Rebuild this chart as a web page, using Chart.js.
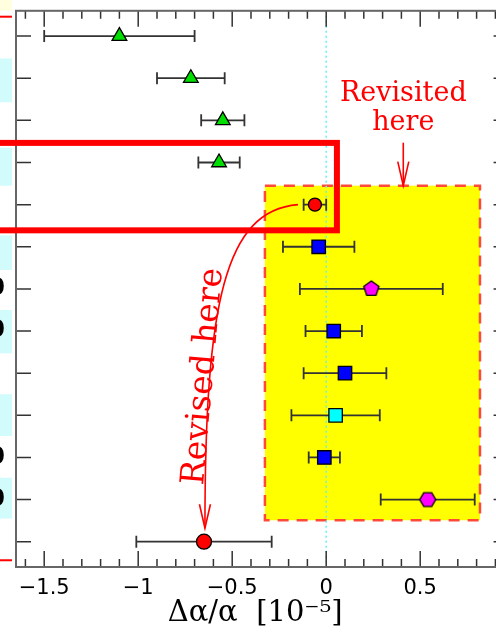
<!DOCTYPE html>
<html lang="en">
<head>
<meta charset="UTF-8">
<title>Δα/α</title>
<script src="https://cdn.jsdelivr.net/npm/chart.js@4"></script>
<style>
  body {margin: 0; background: #fff;}
</style>
</head>
<body>
<canvas id="alpha" width="496" height="633"></canvas>
<script>
// one row per measurement, top to bottom
const rows = [0, 1, 2, 3, 4, 5, 6, 7, 8, 9, 10, 11, 12];
const dAlpha = [-1.10, -0.72, -0.55, -0.57, -0.06, -0.04, 0.24, 0.04, 0.10, 0.05, -0.01, 0.54, -0.65];
const dAlphaErr = [0.40, 0.18, 0.115, 0.11, 0.06, 0.19, 0.38, 0.15, 0.22, 0.235, 0.083, 0.25, 0.36];
const markerShape = ['tri', 'tri', 'tri', 'tri', 'circle', 'square', 'pentagon', 'square', 'square', 'square', 'square', 'hexagon', 'circle'];
const markerColor = ['#00dd00', '#00dd00', '#00dd00', '#00dd00', '#ff0000', '#0000ff', '#ff00ff', '#0000ff', '#0000ff', '#00ffff', '#0000ff', '#ff00ff', '#ff0000'];
const xTickVals = [-1.5, -1, -0.5, 0, 0.5];
const xMin = -1.65;
const pxPerUnit = 188;
// the right edge of the frame sits just past the visible area
const xFrameRight = 0.97;

// highlighted region and annotations, in data units (x, row)
const revisitBox = {x0: -0.326, x1: 0.818, r0: 3.55, r1: 11.49};
const revisedBox = {x0: -1.8, x1: 0.057, r0: 2.535, r1: 4.61};
const revisitedLabel = {x: 0.41, lines: ['Revisited', 'here'], rows: [1.545, 2.24]};
const revisitedArrow = [[0.41, 2.53], [0.41, 3.55]];
const revisedLabel = {x: -0.655, row: 10.67, text: 'Revised here'};
const revisedCurve = [[-0.150, 4.0], [-0.538, 4.14], [-0.645, 6.31], [-0.645, 11.68]];
// bits of the neighbouring panel that show at the left edge
const stripBands = [[0.53, 1.57], [2.65, 3.55], [4.73, 5.55], [6.5, 7.53], [8.5, 9.49], [10.48, 11.45]];
const stripGlyphRows = [6, 7, 10, 11];
const stripRedRows = [-0.46, 12.44];

function polyMarker(sides, r, fill, rot) {
    const c = document.createElement('canvas');
    const s = Math.ceil(2 * r + 4);
    c.width = c.height = s;
    const g = c.getContext('2d');
    g.beginPath();
    for (let k = 0; k < sides; k++) {
        const a = rot + k * 2 * Math.PI / sides;
        const px = s / 2 + r * Math.cos(a), py = s / 2 + r * Math.sin(a);
        if (k) g.lineTo(px, py); else g.moveTo(px, py);
    }
    g.closePath();
    g.fillStyle = fill; g.fill();
    g.lineWidth = 1.3; g.strokeStyle = '#000'; g.stroke();
    return c;
}

const pointStyles = markerShape.map((m, i) => {
    if (m === 'tri') return 'triangle';
    if (m === 'circle') return 'circle';
    if (m === 'square') return 'rect';
    if (m === 'pentagon') return polyMarker(5, 8, markerColor[i], -Math.PI / 2);
    return polyMarker(6, 8, markerColor[i], 0);
});
const pointRadii = markerShape.map((m, i) => m === 'tri' ? 8.5 : m === 'square' ? 9.5 : i === 4 ? 6.5 : 7.5);

function arrowHead(ctx, x, y, ang, len, half) {
    ctx.beginPath();
    ctx.moveTo(x - len * Math.cos(ang) + half * Math.sin(ang), y - len * Math.sin(ang) - half * Math.cos(ang));
    ctx.lineTo(x, y);
    ctx.lineTo(x - len * Math.cos(ang) - half * Math.sin(ang), y - len * Math.sin(ang) + half * Math.cos(ang));
    ctx.stroke();
}

// frame, yellow box, zero line and error bars go under the markers
const underlay = {
    id: 'underlay',
    beforeDatasetsDraw(chart) {
        const {ctx, chartArea: a, scales: {x, y}} = chart;
        const right = x.getPixelForValue(xFrameRight);
        ctx.save();

        ctx.fillStyle = '#ffffe0';
        ctx.fillRect(0, 0, a.left - 4, a.top);
        ctx.fillStyle = '#d2fbfb';
        stripBands.forEach(b => {
            ctx.fillRect(0, y.getPixelForValue(b[0]), a.left - 4, y.getPixelForValue(b[1]) - y.getPixelForValue(b[0]));
        });

        const bx0 = x.getPixelForValue(revisitBox.x0), bx1 = x.getPixelForValue(revisitBox.x1);
        const by0 = y.getPixelForValue(revisitBox.r0), by1 = y.getPixelForValue(revisitBox.r1);
        ctx.fillStyle = '#ffff00';
        ctx.fillRect(bx0, by0, bx1 - bx0, by1 - by0);
        ctx.strokeStyle = '#ff4a3a';
        ctx.lineWidth = 2.5;
        ctx.setLineDash([11, 8]);
        ctx.strokeRect(bx0, by0, bx1 - bx0, by1 - by0);

        const x0 = x.getPixelForValue(0);
        ctx.strokeStyle = '#66f0f0';
        ctx.lineWidth = 1.5;
        ctx.setLineDash([2, 3]);
        ctx.beginPath(); ctx.moveTo(x0, a.top); ctx.lineTo(x0, a.bottom); ctx.stroke();
        ctx.setLineDash([]);

        // axes box with inward ticks
        ctx.strokeStyle = '#333';
        ctx.lineWidth = 1.5;
        for (let k = -16; k <= 9; k++) {
            const px = x.getPixelForValue(k / 10);
            const len = k % 5 === 0 ? 16 : 8;
            ctx.beginPath();
            ctx.moveTo(px, a.top); ctx.lineTo(px, a.top + len);
            ctx.moveTo(px, a.bottom); ctx.lineTo(px, a.bottom - len);
            ctx.stroke();
        }
        rows.forEach(r => {
            const py = y.getPixelForValue(r);
            ctx.beginPath();
            ctx.moveTo(a.left, py); ctx.lineTo(a.left + 15, py);
            ctx.moveTo(right, py); ctx.lineTo(right - 15, py);
            ctx.stroke();
        });
        ctx.strokeStyle = '#666';
        ctx.lineWidth = 2;
        ctx.strokeRect(a.left, a.top, right - a.left, a.bottom - a.top);

        ctx.strokeStyle = '#333';
        ctx.lineWidth = 1.8;
        rows.forEach((r, i) => {
            const py = y.getPixelForValue(r);
            const lo = x.getPixelForValue(dAlpha[i] - dAlphaErr[i]);
            const hi = x.getPixelForValue(dAlpha[i] + dAlphaErr[i]);
            ctx.beginPath();
            ctx.moveTo(lo, py); ctx.lineTo(hi, py);
            ctx.moveTo(lo, py - 6); ctx.lineTo(lo, py + 6);
            ctx.moveTo(hi, py - 6); ctx.lineTo(hi, py + 6);
            ctx.stroke();
        });
        ctx.restore();
    }
};

// red box and the two annotations on top
const overlay = {
    id: 'overlay',
    afterDatasetsDraw(chart) {
        const {ctx, chartArea: a, scales: {x, y}} = chart;
        ctx.save();
        ctx.strokeStyle = '#ff0000';
        ctx.fillStyle = '#ff0000';

        ctx.lineWidth = 2;
        stripRedRows.forEach(r => {
            const py = y.getPixelForValue(r);
            ctx.beginPath(); ctx.moveTo(0, py); ctx.lineTo(a.left - 4, py); ctx.stroke();
        });

        const rx0 = x.getPixelForValue(revisedBox.x0), rx1 = x.getPixelForValue(revisedBox.x1);
        const ry0 = y.getPixelForValue(revisedBox.r0), ry1 = y.getPixelForValue(revisedBox.r1);
        ctx.lineWidth = 6;
        ctx.strokeRect(rx0, ry0, rx1 - rx0, ry1 - ry0);

        ctx.font = '27px "DejaVu Serif"';
        ctx.textAlign = 'center';
        ctx.textBaseline = 'alphabetic';
        revisitedLabel.lines.forEach((t, k) => {
            ctx.fillText(t, x.getPixelForValue(revisitedLabel.x), y.getPixelForValue(revisitedLabel.rows[k]));
        });
        ctx.lineWidth = 1.6;
        const ax = x.getPixelForValue(revisitedArrow[0][0]);
        const ay0 = y.getPixelForValue(revisitedArrow[0][1]), ay1 = y.getPixelForValue(revisitedArrow[1][1]);
        ctx.beginPath(); ctx.moveTo(ax, ay0); ctx.lineTo(ax, ay1); ctx.stroke();
        arrowHead(ctx, ax, ay1, Math.PI / 2, 24, 5.5);

        const c = revisedCurve.map(p => [x.getPixelForValue(p[0]), y.getPixelForValue(p[1])]);
        ctx.beginPath();
        ctx.moveTo(c[0][0], c[0][1]);
        ctx.bezierCurveTo(c[1][0], c[1][1], c[2][0], c[2][1], c[3][0], c[3][1]);
        ctx.stroke();
        arrowHead(ctx, c[3][0], c[3][1], Math.PI / 2, 24, 5.5);

        ctx.save();
        ctx.translate(x.getPixelForValue(revisedLabel.x), y.getPixelForValue(revisedLabel.row));
        ctx.rotate(-85 * Math.PI / 180);
        ctx.font = '33px "DejaVu Serif"';
        ctx.textAlign = 'left';
        ctx.fillText(revisedLabel.text, 0, 0);
        ctx.restore();

        ctx.fillStyle = '#000';
        ctx.font = 'bold 24px "DejaVu Sans"';
        ctx.textAlign = 'right';
        ctx.textBaseline = 'middle';
        stripGlyphRows.forEach(r => ctx.fillText('0', a.left - 11, y.getPixelForValue(r)));
        ctx.restore();
    }
};

const chart = new Chart(document.getElementById('alpha'), {
    type: 'scatter',
    data: {
        datasets: [{
            data: rows.map((r, i) => ({x: dAlpha[i], y: r})),
            pointStyle: pointStyles,
            pointRadius: pointRadii,
            pointBackgroundColor: markerColor,
            pointBorderColor: '#000',
            pointBorderWidth: 1.3
        }]
    },
    options: {
        responsive: false,
        animation: false,
        devicePixelRatio: 1,
        layout: {padding: {left: 16, top: 7, right: 0, bottom: 0}},
        plugins: {legend: {display: false}, tooltip: {enabled: false}},
        scales: {
            x: {
                type: 'linear', min: xMin, max: 0.877,
                // invisible tick marks just push the labels down
                grid: {display: true, drawOnChartArea: false, drawTicks: true, tickLength: 9, color: 'rgba(0,0,0,0)'},
                border: {display: false},
                afterBuildTicks: s => { s.ticks = xTickVals.map(v => ({value: v})); },
                afterFit: s => { s.height = 66; },
                ticks: {
                    padding: 0, color: '#000', autoSkip: false, maxRotation: 0,
                    font: {family: 'DejaVu Sans', size: 21},
                    callback: v => v < 0 ? '\u2212' + Math.abs(v) : String(v)
                },
                title: {
                    display: true, text: ' Δα/α  [10⁻⁵]', color: '#000',
                    font: {family: 'DejaVu Serif', size: 29},
                    padding: {top: 0, bottom: 2}
                }
            },
            y: {type: 'linear', min: -0.6, max: 12.6, reverse: true, display: false}
        }
    },
    plugins: [underlay, overlay]
});

// keep 188 px per unit whatever width the layout leaves for the plot
for (let k = 0; k < 2; k++) {
    const ca = chart.chartArea;
    chart.options.scales.x.max = xMin + (ca.right - ca.left) / pxPerUnit;
    chart.update();
}
</script>
</body>
</html>
